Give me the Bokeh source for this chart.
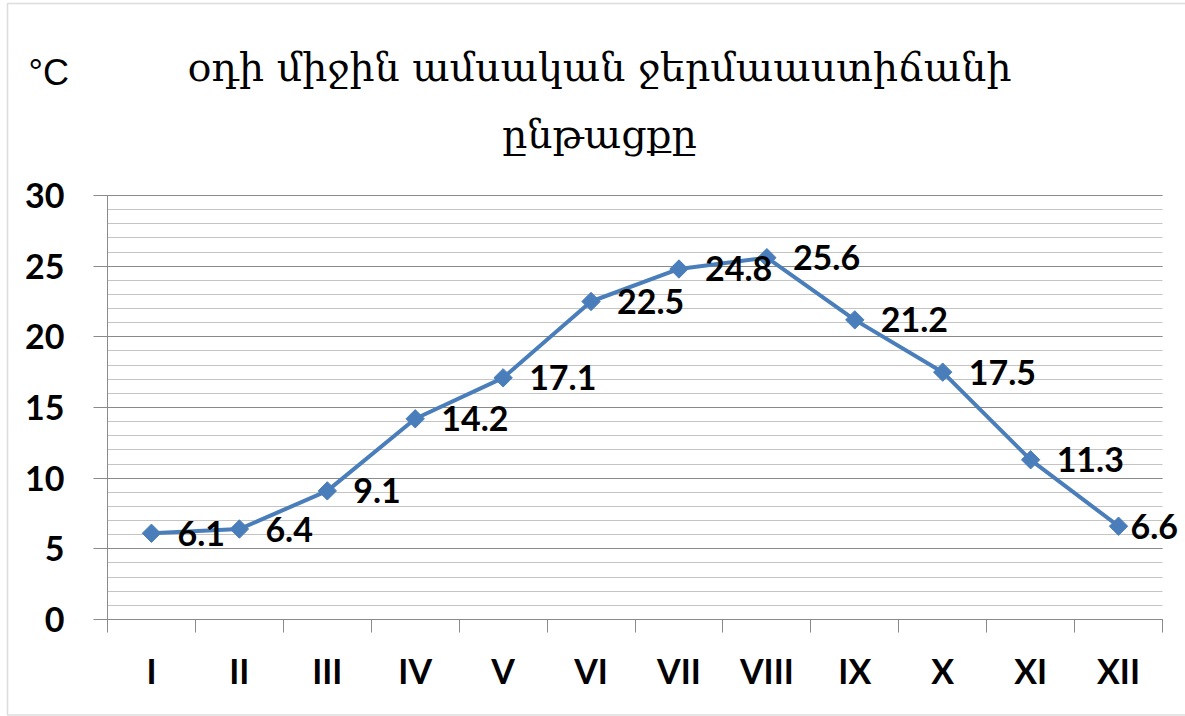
import math
import numpy as np
from bokeh.plotting import figure
from bokeh.models import (Range1d, SingleIntervalTicker, FixedTicker, Label,
                          LinearAxis, Grid, BoxAnnotation)
from bokeh.embed import file_html
from bokeh.resources import INLINE

months = ["I", "II", "III", "IV", "V", "VI", "VII", "VIII", "IX", "X", "XI", "XII"]
temps = [6.1, 6.4, 9.1, 14.2, 17.1, 22.5, 24.8, 25.6, 21.2, 17.5, 11.3, 6.6]
y_min, y_max, y_step = 0, 30, 5
title_line1 = "օդի միջին ամսական ջերմաաստիճանի"
title_line2 = "ընթացքը"
unit_text = "°C"

BLUE = "#4A7EBB"
GRID_DARK = "#8a8a8a"
GRID_LIGHT = "#c4c4c4"
NUM_FONT = "Lato"
TITLE_FONT = "DejaVu Serif"

# canvas and plot-area geometry (pixels)
W, H = 1185, 716
AREA_L, AREA_R, AREA_T, AREA_B = 107, 1162, 195, 619

n = len(months)
px_x = (AREA_R - AREA_L) / n              # pixels per category
px_y = (AREA_B - AREA_T) / (y_max - y_min)  # pixels per degree
x_range = Range1d(-AREA_L / px_x, n + (W - AREA_R) / px_x)
y_range = Range1d(y_min - (H - AREA_B) / px_y, y_max + AREA_T / px_y)


def px_to_x(px):
    return (px - AREA_L) / px_x


def py_to_y(py):
    return y_min + (AREA_B - py) / px_y


xs = np.arange(n) + 0.5
label_offsets = [26] * (n - 1) + [12]

p = figure(width=W, height=H, output_backend="svg", toolbar_location=None,
           title_location=None, x_axis_type=None, y_axis_type=None,
           x_range=x_range, y_range=y_range,
           min_border=0, min_border_left=0, min_border_right=0,
           min_border_top=0, min_border_bottom=0,
           background_fill_color="white", border_fill_color="white")
p.outline_line_color = None
p.xgrid.visible = False
p.ygrid.visible = False

# chart border
p.add_layout(BoxAnnotation(left=px_to_x(7), right=px_to_x(W + 20),
                           top=py_to_y(3), bottom=py_to_y(H - 1.5),
                           fill_color=None, line_color="#8e8e8e", line_width=1.5,
                           level="underlay"))

# y axis, fixed at the left edge of the plot area
yaxis = LinearAxis(fixed_location=0, bounds=(y_min, y_max),
                   ticker=SingleIntervalTicker(interval=y_step, num_minor_ticks=5))
yaxis.axis_line_color = GRID_DARK
yaxis.major_tick_line_color = GRID_DARK
yaxis.major_tick_out = 14
yaxis.major_tick_in = 0
yaxis.minor_tick_line_color = None
yaxis.major_label_standoff = 29
yaxis.major_label_text_font = NUM_FONT
yaxis.major_label_text_font_style = "bold"
yaxis.major_label_text_font_size = "34px"
yaxis.major_label_text_color = "black"
p.add_layout(yaxis, "left")

# x axis, fixed at y = 0
xaxis = LinearAxis(fixed_location=y_min, bounds=(0, n),
                   ticker=FixedTicker(ticks=list(xs), minor_ticks=list(range(n + 1))))
xaxis.major_label_overrides = {float(x): m for x, m in zip(xs, months)}
xaxis.axis_line_color = GRID_DARK
xaxis.major_tick_line_color = None
xaxis.major_tick_out = 0
xaxis.major_tick_in = 0
xaxis.minor_tick_line_color = GRID_DARK
xaxis.minor_tick_out = 13
xaxis.minor_tick_in = 0
xaxis.major_label_standoff = 17
xaxis.major_label_text_font = NUM_FONT
xaxis.major_label_text_font_style = "bold"
xaxis.major_label_text_font_size = "34px"
xaxis.major_label_text_color = "black"
p.add_layout(xaxis, "below")

# horizontal grid limited to the plot area
if "cross_bounds" in Grid.properties():
    grid = Grid(dimension=1, axis=yaxis, ticker=yaxis.ticker,
                bounds=(y_min, y_max), cross_bounds=(0, n),
                grid_line_color=GRID_DARK, grid_line_width=1.2,
                minor_grid_line_color=GRID_LIGHT, minor_grid_line_width=1.2)
    p.add_layout(grid)
else:
    minor_levels = [v for v in range(y_min, y_max + 1) if v % y_step]
    major_levels = list(range(y_min, y_max + 1, y_step))
    p.segment(x0=0, x1=n, y0=minor_levels, y1=minor_levels,
              line_color=GRID_LIGHT, line_width=1.2, level="underlay")
    p.segment(x0=0, x1=n, y0=major_levels, y1=major_levels,
              line_color=GRID_DARK, line_width=1.2, level="underlay")

p.line(xs, temps, line_color=BLUE, line_width=4)
p.scatter(xs, temps, marker="square", angle=math.pi / 4, size=13,
          fill_color=BLUE, line_color=BLUE)

for x, v, xo in zip(xs, temps, label_offsets):
    p.add_layout(Label(x=x, y=v, text=f"{v:.1f}", x_offset=xo,
                       text_align="left", text_baseline="middle",
                       text_font=NUM_FONT, text_font_style="bold",
                       text_font_size="34px", text_color="black"))

# title (two lines) and unit label
p.add_layout(Label(x=px_to_x(599), y=py_to_y(66), text=title_line1,
                   text_align="center", text_baseline="alphabetic",
                   text_font=TITLE_FONT, text_font_size="39.5px",
                   text_color="black"))
p.add_layout(Label(x=px_to_x(599), y=py_to_y(133), text=title_line2,
                   text_align="center", text_baseline="alphabetic",
                   text_font=TITLE_FONT, text_font_size="39.5px",
                   text_color="black"))
p.add_layout(Label(x=px_to_x(28), y=py_to_y(72), text=unit_text,
                   text_align="left", text_baseline="alphabetic",
                   text_font="Liberation Sans", text_font_size="36px",
                   text_color="black"))

open("out.html", "w").write(file_html(p, INLINE))
